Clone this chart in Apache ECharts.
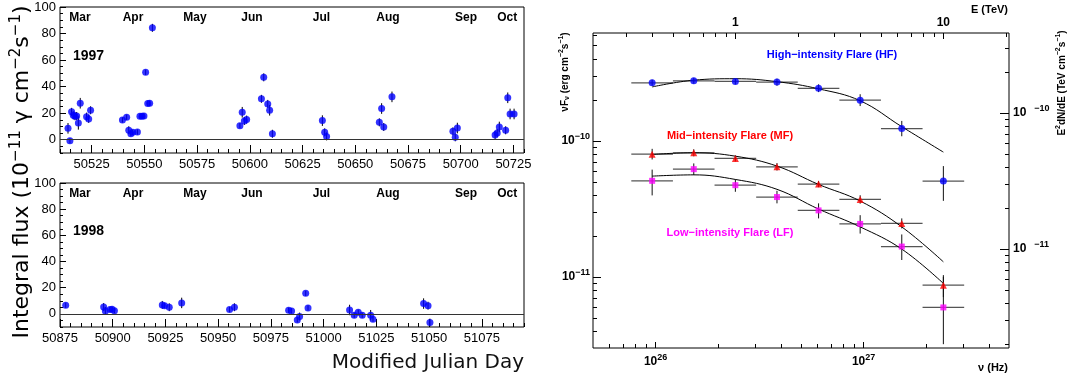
<!DOCTYPE html>
<html>
<head>
<meta charset="utf-8">
<script src="https://cdn.jsdelivr.net/npm/echarts@6/dist/echarts.min.js"></script>
<style>
  html, body { margin: 0; padding: 0; background: #fff; }
  #chart { width: 1078px; height: 379px; }
</style>
</head>
<body>
<div id="chart"></div>
<script>
// ---- light curves: MJD, integral flux (1e-11 cm^-2 s^-1), error ----
const mjd97 = [50513.8, 50514.7, 50515.5, 50516.3, 50517.1, 50517.9, 50518.7, 50519.6, 50522.6, 50523.6, 50524.5,
  50539.6, 50541.6, 50542.6, 50543.6, 50544.5, 50546.7, 50547.9, 50548.9, 50549.8, 50550.6, 50551.6, 50552.5, 50553.8,
  50595.3, 50596.4, 50597.4, 50598.5, 50605.5, 50606.6, 50608.5, 50609.4, 50610.7,
  50634.4, 50635.5, 50636.4,
  50661.4, 50662.5, 50663.5, 50667.4,
  50696.3, 50697.4, 50698.4,
  50716.3, 50717.3, 50718.3, 50721.3, 50722.3, 50723.4, 50725.3]
const flux97 = [8.6, -0.8, 21.0, 18.4, 17.7, 17.9, 12.6, 27.5, 17.4, 15.7, 22.2,
  14.9, 16.9, 7.1, 4.5, 5.6, 5.8, 17.7, 17.7, 17.9, 50.8, 27.3, 27.5, 84.3,
  10.6, 20.7, 14.1, 15.2, 30.8, 47.0, 27.0, 22.2, 4.5,
  14.4, 5.6, 2.5,
  13.1, 23.5, 9.6, 32.3,
  6.3, 1.8, 8.8,
  3.5, 5.1, 9.6, 7.1, 31.6, 19.4, 19.4]
const err97 = [4, 2, 3, 3, 3, 3, 5, 4, 3, 3, 3,
  2, 2, 3, 2, 2, 2, 2, 2, 2, 2, 2, 2, 3,
  2, 4, 3, 3, 3, 3, 3, 4, 3,
  4, 3, 3,
  3, 4, 3, 4,
  3, 3, 4,
  3, 3, 4, 3, 4, 4, 4]

const mjd98 = [50877.7, 50895.7, 50896.5, 50898.7, 50899.7, 50900.8, 50923.5, 50924.6, 50926.8, 50932.7,
  50955.4, 50957.7, 50983.4, 50984.8, 50987.5, 50988.6, 50991.5, 50992.6,
  51012.3, 51014.5, 51016.4, 51018.3, 51022.3, 51023.4, 51047.4, 51049.5, 51050.4]
const flux98 = [6.6, 5.3, 2.3, 3.3, 3.6, 2.5, 6.9, 6.3, 5.1, 8.4,
  3.3, 5.1, 2.8, 2.3, -4.6, -2.0, 15.7, 4.6,
  3.0, -1.0, 1.3, -1.0, -1.0, -4.0, 7.9, 6.3, -6.6]
const err98 = [2, 3, 3, 2, 2, 2, 3, 2, 3, 4,
  2, 3, 2, 2, 2, 3, 2, 2,
  4, 2, 2, 2, 4, 2, 4, 3, 3]

const mjdTicks97 = [50525, 50550, 50575, 50600, 50625, 50650, 50675, 50700, 50725]
const mjdTicks98 = [50875, 50900, 50925, 50950, 50975, 51000, 51025, 51050, 51075]
const fluxTicks = [0, 20, 40, 60, 80, 100]
const monthNames = ['Mar', 'Apr', 'May', 'Jun', 'Jul', 'Aug', 'Sep', 'Oct']
const monthPos97 = [50519.5, 50544.6, 50574, 50601, 50634, 50665.5, 50702.5, 50722]
const monthPos98 = [50884.5, 50909.6, 50939, 50966, 50999, 51030.5, 51067.5, 51087]

// ---- spectra: energy bins (TeV), nuF_nu (erg cm^-2 s^-1) ----
const energyTeV = [0.398, 0.631, 1.0, 1.585, 2.512, 3.981, 6.31, 10.0]
const binLo = [0.316, 0.501, 0.794, 1.259, 1.995, 3.162, 5.012, 7.943]
const binHi = [0.501, 0.794, 1.259, 1.995, 3.162, 5.012, 7.943, 12.59]

const hfFlux = [2.67e-10, 2.76e-10, 2.73e-10, 2.70e-10, 2.43e-10, 1.99e-10, 1.23e-10, 5.06e-11]
const hfLo = [2.54e-10, 2.63e-10, 2.60e-10, 2.54e-10, 2.28e-10, 1.80e-10, 1.08e-10, 3.62e-11]
const hfHi = [2.81e-10, 2.90e-10, 2.87e-10, 2.86e-10, 2.60e-10, 2.20e-10, 1.40e-10, 6.52e-11]
const hfFit = [2.49e-10, 2.79e-10, 2.86e-10, 2.72e-10, 2.41e-10, 1.97e-10, 1.27e-10, 8.26e-11]

const mfFlux = [7.98e-11, 8.16e-11, 7.42e-11, 6.44e-11, 4.81e-11, 3.71e-11, 2.47e-11, 8.69e-12]
const mfLo = [7.29e-11, 7.69e-11, 7.05e-11, 6.05e-11, 4.56e-11, 3.45e-11, 2.27e-11, 7.10e-12]
const mfHi = [8.73e-11, 8.66e-11, 7.81e-11, 6.86e-11, 5.07e-11, 3.98e-11, 2.69e-11, 1.03e-11]
const mfFit = [7.94e-11, 8.17e-11, 7.71e-11, 6.52e-11, 4.78e-11, 3.61e-11, 2.33e-11, 1.29e-11]

const lfFlux = [5.08e-11, 6.19e-11, 4.72e-11, 3.86e-11, 3.08e-11, 2.45e-11, 1.67e-11, 5.96e-12]
const lfLo = [3.97e-11, 5.61e-11, 4.22e-11, 3.47e-11, 2.69e-11, 2.08e-11, 1.33e-11, 3.20e-12]
const lfHi = [6.14e-11, 6.82e-11, 5.20e-11, 4.29e-11, 3.47e-11, 2.84e-11, 2.05e-11, 1.00e-11]
const lfFit = [5.50e-11, 5.62e-11, 5.20e-11, 4.40e-11, 3.15e-11, 2.33e-11, 1.60e-11, 8.95e-12]

// axis ticks of the spectrum frame
const nuMajor = [1e26, 1e27]
const nuMinor = [6e25, 7e25, 8e25, 9e25, 2e26, 3e26, 4e26, 5e26, 6e26, 7e26, 8e26, 9e26, 2e27, 3e27, 4e27]
const eMajor = [1, 10]
const eMinor = [0.3, 0.4, 0.5, 0.6, 0.7, 0.8, 0.9, 2, 3, 4, 5, 6, 7, 8, 9, 20]
const ergMajor = [1e-11, 1e-10]
const ergMinor = [4e-12, 5e-12, 6e-12, 7e-12, 8e-12, 9e-12, 2e-11, 3e-11, 4e-11, 5e-11, 6e-11, 7e-11, 8e-11, 9e-11,
  2e-10, 3e-10, 4e-10, 5e-10, 6e-10]
const tevMajor = [1e-11, 1e-10]
const tevMinor = [2e-12, 3e-12, 4e-12, 5e-12, 6e-12, 7e-12, 8e-12, 9e-12, 2e-11, 3e-11, 4e-11, 5e-11, 6e-11, 7e-11,
  8e-11, 9e-11, 2e-10, 3e-10]

const TEV_HZ = 2.418e26 // 1 TeV in Hz
const TEV_ERG = 1.602 // 1 TeV in erg
const E_MIN = 0.2068
const E_MAX = 20.68
const F_MIN = 3e-12
const F_MAX = 6.2e-10

const FONT = '"Liberation Sans", Arial, Helvetica, sans-serif'
const TITLE_FONT = '"DejaVu Sans", Verdana, sans-serif'

let myChart = echarts.init(document.getElementById('chart'))

const supRich = {
  b: { fontSize: 12, fontWeight: 'bold', fontFamily: FONT, color: '#000' },
  s: { fontSize: 9, fontWeight: 'bold', fontFamily: FONT, color: '#000', padding: [0, 0, 9, 0] },
  g: { fontSize: 9, fontWeight: 'bold', fontFamily: FONT, color: '#000', padding: [0, 0, 9, 8] }
}
function powLabel (v) {
  const p = Math.round(Math.log10(v))
  return '{b|10}{s|' + String(p).replace('-', '−') + '}'
}
function plainNum (v) {
  return String(Math.round(v))
}
function monthLabel (pos) {
  return function (v) {
    for (let i = 0; i < pos.length; i++) {
      if (Math.abs(pos[i] - v) < 0.01) return monthNames[i]
    }
    return ''
  }
}

// light curve panel axes: major (labels) + minor ticks + months on top
function lcXAxes (grid, min, max, ticks, months) {
  return [
    {
      gridIndex: grid, type: 'value', position: 'bottom', min: min, max: max, interval: 5,
      axisLine: { show: false, onZero: false }, splitLine: { show: false },
      axisTick: { inside: true, length: 8, customValues: ticks, lineStyle: { color: '#000' } },
      axisLabel: { customValues: ticks, formatter: plainNum, margin: 5, fontSize: 13, color: '#000', fontFamily: FONT }
    },
    {
      gridIndex: grid, type: 'value', position: 'bottom', min: min, max: max, interval: 5,
      axisLine: { show: false, onZero: false }, splitLine: { show: false }, axisLabel: { show: false },
      axisTick: { inside: true, length: 4, lineStyle: { color: '#000' } }
    },
    {
      gridIndex: grid, type: 'value', position: 'top', min: min, max: max, interval: 5,
      axisLine: { show: false, onZero: false }, splitLine: { show: false }, axisTick: { show: false },
      axisLabel: {
        inside: true, customValues: months, formatter: monthLabel(months), margin: 5,
        fontSize: 12, fontWeight: 'bold', color: '#000', fontFamily: FONT
      }
    }
  ]
}
function lcYAxes (grid) {
  return [
    {
      gridIndex: grid, type: 'value', position: 'left', min: -10, max: 100, interval: 5,
      axisLine: { show: false, onZero: false }, splitLine: { show: false },
      axisTick: { inside: true, length: 6, customValues: fluxTicks, lineStyle: { color: '#000' } },
      axisLabel: { customValues: fluxTicks, formatter: plainNum, margin: 4, fontSize: 13, color: '#000', fontFamily: FONT }
    },
    {
      gridIndex: grid, type: 'value', position: 'left', min: -10, max: 100, interval: 5,
      axisLine: { show: false, onZero: false }, splitLine: { show: false }, axisLabel: { show: false },
      axisTick: { inside: true, length: 3, lineStyle: { color: '#000' } }
    }
  ]
}
// log axis of spectrum frame: major with labels, minor without
function logAxes (grid, pos, min, max, major, minor, majLen, label) {
  return [
    {
      gridIndex: grid, type: 'log', position: pos, min: min, max: max,
      axisLine: { show: false, onZero: false }, splitLine: { show: false },
      axisTick: { inside: true, length: majLen, customValues: major, lineStyle: { color: '#000' } },
      axisLabel: label
    },
    {
      gridIndex: grid, type: 'log', position: pos, min: min, max: max,
      axisLine: { show: false, onZero: false }, splitLine: { show: false }, axisLabel: { show: false },
      axisTick: { inside: true, length: 4, customValues: minor, lineStyle: { color: '#000' } }
    }
  ]
}

function fluxErr (params, api) {
  const x = api.value(0)
  const y = api.value(1)
  const e = api.value(2)
  const lo = api.coord([x, y - e])
  const hi = api.coord([x, y + e])
  return {
    type: 'line',
    shape: { x1: lo[0], y1: lo[1], x2: hi[0], y2: hi[1] },
    style: { stroke: '#000', lineWidth: 1 }
  }
}
function specErr (params, api) {
  const e = api.value(0)
  const f = api.value(1)
  const a = api.coord([api.value(2), f])
  const b = api.coord([api.value(3), f])
  const c = api.coord([e, api.value(4)])
  const d = api.coord([e, api.value(5)])
  return {
    type: 'group',
    children: [
      { type: 'line', shape: { x1: a[0], y1: a[1], x2: b[0], y2: b[1] }, style: { stroke: '#555', lineWidth: 1.2 } },
      { type: 'line', shape: { x1: c[0], y1: c[1], x2: d[0], y2: d[1] }, style: { stroke: '#111', lineWidth: 1 } }
    ]
  }
}

function lcSeries (xi, yi, mjd, flux, err) {
  return [
    {
      type: 'custom', xAxisIndex: xi, yAxisIndex: yi, renderItem: fluxErr, z: 2,
      encode: { x: 0, y: 1 },
      data: mjd.map((m, i) => [m, flux[i], err[i]])
    },
    {
      type: 'scatter', xAxisIndex: xi, yAxisIndex: yi, symbol: 'circle', symbolSize: 7, z: 3,
      itemStyle: { color: '#0000ff' },
      data: mjd.map((m, i) => [m, flux[i]]),
      markLine: {
        silent: true, symbol: 'none', label: { show: false },
        lineStyle: { color: '#333', width: 1, type: 'solid' },
        data: [{ yAxis: 0 }]
      }
    }
  ]
}
function specSeries (flux, lo, hi, fit, symbol, size, color) {
  return [
    {
      type: 'custom', xAxisIndex: 10, yAxisIndex: 8, renderItem: specErr, z: 2,
      encode: { x: 0, y: 1 },
      data: energyTeV.map((e, i) => [e, flux[i], binLo[i], binHi[i], lo[i], hi[i]])
    },
    {
      type: 'line', xAxisIndex: 10, yAxisIndex: 8, smooth: 0.4, showSymbol: false, z: 3,
      lineStyle: { color: '#000', width: 1 },
      data: energyTeV.map((e, i) => [e, fit[i]])
    },
    {
      type: 'scatter', xAxisIndex: 10, yAxisIndex: 8, symbol: symbol, symbolSize: size, z: 4,
      itemStyle: { color: color },
      data: energyTeV.map((e, i) => [e, flux[i]])
    }
  ]
}

const gridStyle = { show: true, borderColor: '#000', borderWidth: 1, backgroundColor: 'transparent' }

let option = {
  animation: false,
  backgroundColor: '#fff',
  grid: [
    Object.assign({ left: 60, top: 7, width: 464, height: 146 }, gridStyle),
    Object.assign({ left: 60, top: 183, width: 464, height: 144 }, gridStyle),
    Object.assign({ left: 593, top: 33, width: 416, height: 315 }, gridStyle)
  ],
  xAxis: [].concat(
    lcXAxes(0, 50510, 50730, mjdTicks97, monthPos97), // 0,1,2
    lcXAxes(1, 50875, 51095, mjdTicks98, monthPos98), // 3,4,5
    logAxes(2, 'bottom', E_MIN * TEV_HZ, E_MAX * TEV_HZ, nuMajor, nuMinor, 6, // 6,7
      { customValues: nuMajor, formatter: powLabel, rich: supRich, margin: 5 }),
    logAxes(2, 'top', E_MIN, E_MAX, eMajor, eMinor, 6, // 8,9
      { customValues: eMajor, formatter: plainNum, margin: 4, fontSize: 12, fontWeight: 'bold', color: '#000', fontFamily: FONT }),
    [{ // 10: data axis (E in TeV), invisible
      gridIndex: 2, type: 'log', position: 'top', min: E_MIN, max: E_MAX, show: false
    }]
  ),
  yAxis: [].concat(
    lcYAxes(0), // 0,1
    lcYAxes(1), // 2,3
    logAxes(2, 'left', F_MIN, F_MAX, ergMajor, ergMinor, 8, // 4,5
      { customValues: ergMajor, formatter: powLabel, rich: supRich, margin: 3 }),
    logAxes(2, 'right', F_MIN / TEV_ERG, F_MAX / TEV_ERG, tevMajor, tevMinor, 9, // 6,7
      {
        customValues: tevMajor, margin: 4, rich: supRich,
        formatter: v => '{b|10}{g|' + String(Math.round(Math.log10(v))).replace('-', '−') + '}'
      }),
    [{ // 8: data axis (erg), invisible
      gridIndex: 2, type: 'log', position: 'left', min: F_MIN, max: F_MAX, show: false
    }]
  ),
  graphic: [
    { type: 'text', left: 73, top: 49, style: { text: '1997', font: 'bold 14px ' + FONT, fill: '#000' } },
    { type: 'text', left: 73, top: 224, style: { text: '1998', font: 'bold 14px ' + FONT, fill: '#000' } },
    {
      type: 'text', x: 22, y: 172, rotation: Math.PI / 2,
      style: {
        text: '{t|Integral flux (10}{u|−11}{t| γ cm}{u|−2}{t|s}{u|−1}{t|)}',
        align: 'center', verticalAlign: 'middle',
        rich: {
          t: { fontSize: 22, fontFamily: TITLE_FONT, color: '#111' },
          u: { fontSize: 15, fontFamily: TITLE_FONT, color: '#111', padding: [0, 0, 12, 0] }
        }
      }
    },
    {
      type: 'text', x: 524, y: 363,
      style: { text: 'Modified Julian Day', align: 'right', verticalAlign: 'middle', font: '20px ' + TITLE_FONT, fill: '#111' }
    },
    {
      type: 'text', x: 832, y: 55,
      style: { text: 'High−intensity Flare (HF)', align: 'center', verticalAlign: 'middle', font: 'bold 11px ' + FONT, fill: '#0000ff' }
    },
    {
      type: 'text', x: 730, y: 136,
      style: { text: 'Mid−intensity Flare (MF)', align: 'center', verticalAlign: 'middle', font: 'bold 11px ' + FONT, fill: '#ff0000' }
    },
    {
      type: 'text', x: 730, y: 233,
      style: { text: 'Low−intensity Flare (LF)', align: 'center', verticalAlign: 'middle', font: 'bold 11px ' + FONT, fill: '#ff00ff' }
    },
    {
      type: 'text', x: 1008, y: 10,
      style: { text: 'E (TeV)', align: 'right', verticalAlign: 'middle', font: 'bold 11px ' + FONT, fill: '#000' }
    },
    {
      type: 'text', x: 1008, y: 368,
      style: { text: 'ν (Hz)', align: 'right', verticalAlign: 'middle', font: 'bold 11px ' + FONT, fill: '#000' }
    },
    {
      type: 'text', x: 565, y: 72, rotation: Math.PI / 2,
      style: {
        text: '{t|νF}{d|ν}{t| (erg cm}{u|−2}{t|s}{u|−1}{t|)}',
        align: 'center', verticalAlign: 'middle',
        rich: {
          t: { fontSize: 10, fontWeight: 'bold', fontFamily: FONT, color: '#000' },
          u: { fontSize: 7, fontWeight: 'bold', fontFamily: FONT, color: '#000', padding: [0, 0, 7, 0] },
          d: { fontSize: 7, fontWeight: 'bold', fontFamily: FONT, color: '#000', padding: [5, 0, 0, 0] }
        }
      }
    },
    {
      type: 'text', x: 1062, y: 83, rotation: Math.PI / 2,
      style: {
        text: '{t|E}{u|2}{t|dN/dE (TeV cm}{u|−2}{t|s}{u|−1}{t|)}',
        align: 'center', verticalAlign: 'middle',
        rich: {
          t: { fontSize: 10, fontWeight: 'bold', fontFamily: FONT, color: '#000' },
          u: { fontSize: 7, fontWeight: 'bold', fontFamily: FONT, color: '#000', padding: [0, 0, 7, 0] }
        }
      }
    }
  ],
  series: [].concat(
    lcSeries(0, 0, mjd97, flux97, err97),
    lcSeries(3, 2, mjd98, flux98, err98),
    specSeries(hfFlux, hfLo, hfHi, hfFit, 'circle', 7, '#0000ff'),
    specSeries(mfFlux, mfLo, mfHi, mfFit, 'triangle', 7, '#ff0000'),
    specSeries(lfFlux, lfLo, lfHi, lfFit, 'rect', 6, '#ff00ff')
  )
}
myChart.setOption(option, true)
</script>
</body>
</html>
